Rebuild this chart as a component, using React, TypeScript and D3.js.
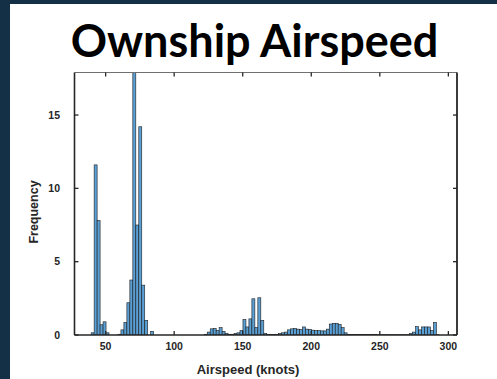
import React from "react";
import * as d3 from "d3";

// Histogram of ownship airspeed: bins of equal width starting at binStart
const binStart = 28.6;
const binWidth = 2.171;
const counts: number[] = [
  0, 0, 0, 0, 0, 0.15, 11.6, 7.8, 0.7, 0.9,
  0.15, 0, 0, 0, 0.05, 0.35, 0.85, 2.2, 3.75, 18.2,
  7.5, 14.2, 3.4, 1.0, 0, 0.25, 0, 0, 0, 0,
  0, 0, 0, 0, 0, 0, 0, 0, 0, 0,
  0, 0, 0, 0.05, 0.2, 0.42, 0.45, 0.3, 0.5, 0.25,
  0.1, 0.05, 0.05, 0.1, 0.15, 0.3, 1.06, 0.55, 1.1, 2.47,
  0.5, 2.54, 1.0, 0.1, 0.03, 0.03, 0.03, 0.05, 0.1, 0.15,
  0.2, 0.35, 0.42, 0.45, 0.4, 0.38, 0.55, 0.4, 0.38, 0.33,
  0.3, 0.3, 0.28, 0.28, 0.4, 0.75, 0.8, 0.8, 0.72, 0.5,
  0.15, 0.03, 0.03, 0.03, 0.03, 0.03, 0.03, 0.03, 0.03, 0.03,
  0.05, 0.02, 0.02, 0.02, 0.02, 0.02, 0.02, 0.02, 0.02, 0.02,
  0.02, 0.02, 0.1, 0.2, 0.57, 0.35, 0.55, 0.55, 0.55, 0.3,
  0.86, 0.02, 0, 0, 0, 0, 0, 0,
];

const xTicks = [50, 100, 150, 200, 250, 300];
const yTicks = [0, 5, 10, 15];
const xDomain: [number, number] = [27.3, 306.3];
const yDomain: [number, number] = [0, 17.9];

const W = 497;
const H = 379;
const plot = { left: 74.5, right: 457, top: 72.5, bottom: 335 };
const font = "'Liberation Sans', Arial, Helvetica, sans-serif";

export default function App() {
  const x = d3.scaleLinear().domain(xDomain).range([plot.left, plot.right]);
  const y = d3.scaleLinear().domain(yDomain).range([plot.bottom, plot.top]);

  const bins = counts.map((c, i) => {
    const x0 = binStart + i * binWidth;
    return { x0, x1: x0 + binWidth, c };
  });

  const tickLen = 4;

  return (
    <div style={{ position: "fixed", left: 0, top: 0, width: W, height: H }}>
      <svg width={W} height={H} style={{ display: "block" }}>
        <rect x={0} y={0} width={W} height={H} fill="#143046" />
        <rect x={10} y={4} width={W - 10} height={H - 4} fill="#ffffff" />

        <text
          x={254.5}
          y={56.5}
          textAnchor="middle"
          fontFamily="Lato, 'Open Sans', sans-serif"
          fontWeight={700}
          fontSize={45}
          fill="#000"
        >
          Ownship Airspeed
        </text>

        <defs>
          <clipPath id="plotClip">
            <rect
              x={plot.left}
              y={plot.top}
              width={plot.right - plot.left}
              height={plot.bottom - plot.top}
            />
          </clipPath>
        </defs>

        <g clipPath="url(#plotClip)">
          {bins.map((b, i) =>
            b.c > 0 ? (
              <rect
                key={i}
                x={x(b.x0)}
                y={y(b.c)}
                width={x(b.x1) - x(b.x0)}
                height={y(0) - y(b.c)}
                fill="#5a9fd4"
                stroke="#1c1c1c"
                strokeWidth={0.6}
              />
            ) : null
          )}
        </g>

        {/* axes box */}
        <line x1={plot.left} x2={plot.right} y1={plot.top} y2={plot.top} stroke="#707070" strokeWidth={1} />
        <line x1={plot.left} x2={plot.right} y1={plot.bottom} y2={plot.bottom} stroke="#262626" strokeWidth={1.6} />
        <line x1={plot.left} x2={plot.left} y1={plot.top} y2={plot.bottom} stroke="#262626" strokeWidth={1.6} />
        <line x1={plot.right} x2={plot.right} y1={plot.top} y2={plot.bottom} stroke="#262626" strokeWidth={1.8} />

        {xTicks.map((t) => (
          <g key={"x" + t}>
            <line x1={x(t)} x2={x(t)} y1={plot.bottom} y2={plot.bottom - tickLen} stroke="#262626" strokeWidth={1.3} />
            <line x1={x(t)} x2={x(t)} y1={plot.top} y2={plot.top + tickLen} stroke="#262626" strokeWidth={1.3} />
            <text
              x={x(t)}
              y={349.5}
              textAnchor="middle"
              fontFamily={font}
              fontWeight={700}
              fontSize={10.5}
              fill="#262626"
            >
              {t}
            </text>
          </g>
        ))}

        {yTicks.map((t) => (
          <g key={"y" + t}>
            <line x1={plot.left} x2={plot.left + tickLen} y1={y(t)} y2={y(t)} stroke="#262626" strokeWidth={1.3} />
            <line x1={plot.right} x2={plot.right - tickLen} y1={y(t)} y2={y(t)} stroke="#262626" strokeWidth={1.3} />
            <text
              x={60}
              y={y(t) + 3.8}
              textAnchor="end"
              fontFamily={font}
              fontWeight={700}
              fontSize={10.5}
              fill="#262626"
            >
              {t}
            </text>
          </g>
        ))}

        <text
          x={248}
          y={374}
          textAnchor="middle"
          fontFamily={font}
          fontWeight={700}
          fontSize={13}
          fill="#262626"
        >
          Airspeed (knots)
        </text>
        <text
          transform="translate(37.5,212) rotate(-90)"
          textAnchor="middle"
          fontFamily={font}
          fontWeight={700}
          fontSize={12.5}
          fill="#262626"
        >
          Frequency
        </text>
      </svg>
    </div>
  );
}
